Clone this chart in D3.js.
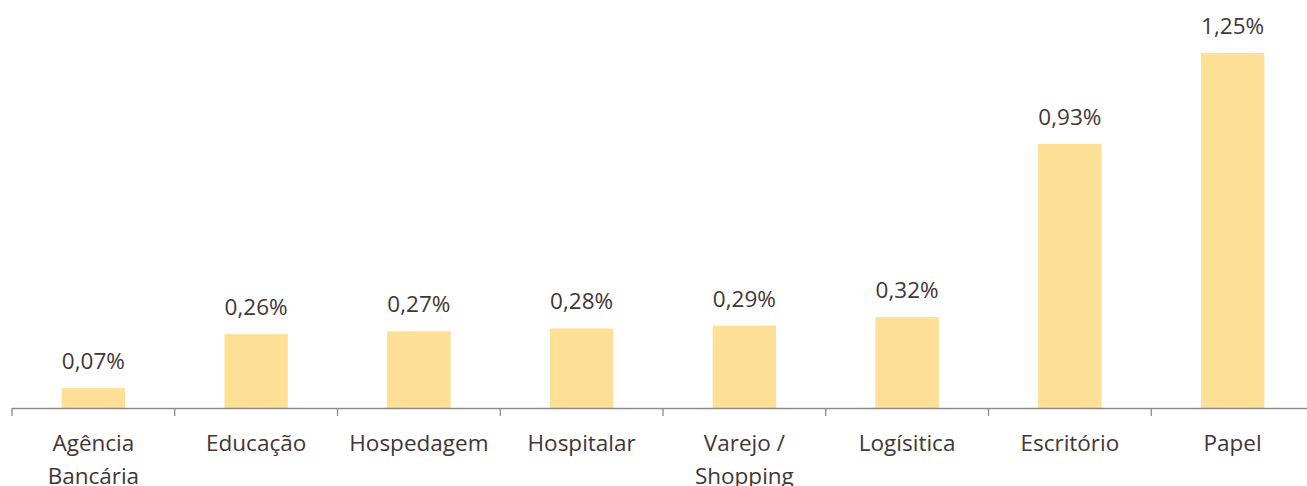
<!DOCTYPE html>
<html>
<head>
<meta charset="utf-8">
<script src="https://cdn.jsdelivr.net/npm/d3@7"></script>
<style>
  body { margin: 0; background: #fff; }
  svg { display: block; font-family: "Open Sans", Lato, sans-serif; }
</style>
</head>
<body>
<div id="chart"></div>
<script>
// categories and values
const categories = ["Agência Bancária", "Educação", "Hospedagem", "Hospitalar", "Varejo / Shopping", "Logísitica", "Escritório", "Papel"];
const values = [0.07, 0.26, 0.27, 0.28, 0.29, 0.32, 0.93, 1.25];
const valueLabels = ["0,07%", "0,26%", "0,27%", "0,28%", "0,29%", "0,32%", "0,93%", "1,25%"];

const width = 1307, height = 486;
const left = 12, right = 1314, baseline = 408;
const textColor = "#433537";

const x = d3.scaleBand()
    .domain(categories)
    .range([left, right])
    .paddingInner(0.61)
    .paddingOuter(0.305);

const y = d3.scaleLinear()
    .domain([0, 1.4])
    .range([baseline, 10.4]);

const svg = d3.select("#chart")
    .append("svg")
    .attr("width", width)
    .attr("height", height);

// bars
svg.append("g")
    .selectAll("rect")
    .data(values)
    .join("rect")
    .attr("x", (d, i) => x(categories[i]))
    .attr("y", d => y(d))
    .attr("width", x.bandwidth())
    .attr("height", d => baseline - y(d))
    .attr("fill", "#fddf95");

// value labels
svg.append("g")
    .attr("font-size", 22.5)
    .attr("fill", textColor)
    .attr("text-anchor", "middle")
    .selectAll("text")
    .data(values)
    .join("text")
    .attr("x", (d, i) => x(categories[i]) + x.bandwidth() / 2)
    .attr("y", d => y(d) - 19)
    .text((d, i) => valueLabels[i]);

// axis line + ticks at category boundaries
const step = x.step();
const bounds = d3.range(categories.length + 1).map(i => left + i * step);

const axis = svg.append("g")
    .attr("stroke", "#8c8c8c")
    .attr("stroke-width", 1.3);

axis.append("line")
    .attr("x1", left).attr("x2", width)
    .attr("y1", baseline + 0.5).attr("y2", baseline + 0.5);

axis.selectAll("line.tick")
    .data(bounds)
    .join("line")
    .attr("class", "tick")
    .attr("x1", d => d).attr("x2", d => d)
    .attr("y1", baseline).attr("y2", baseline + 8);

// category labels, wrapped like the original
const wrapped = {
    "Agência Bancária": ["Agência", "Bancária"],
    "Varejo / Shopping": ["Varejo /", "Shopping"]
};

svg.append("g")
    .attr("font-size", 22.5)
    .attr("fill", textColor)
    .attr("text-anchor", "middle")
    .selectAll("text")
    .data(categories)
    .join("text")
    .attr("x", d => x(d) + x.bandwidth() / 2)
    .attr("y", 451)
    .selectAll("tspan")
    .data(d => wrapped[d] || [d])
    .join("tspan")
    .attr("x", function () { return this.parentNode.getAttribute("x"); })
    .attr("dy", (d, i) => i ? 33 : 0)
    .text(d => d);
</script>
</body>
</html>
